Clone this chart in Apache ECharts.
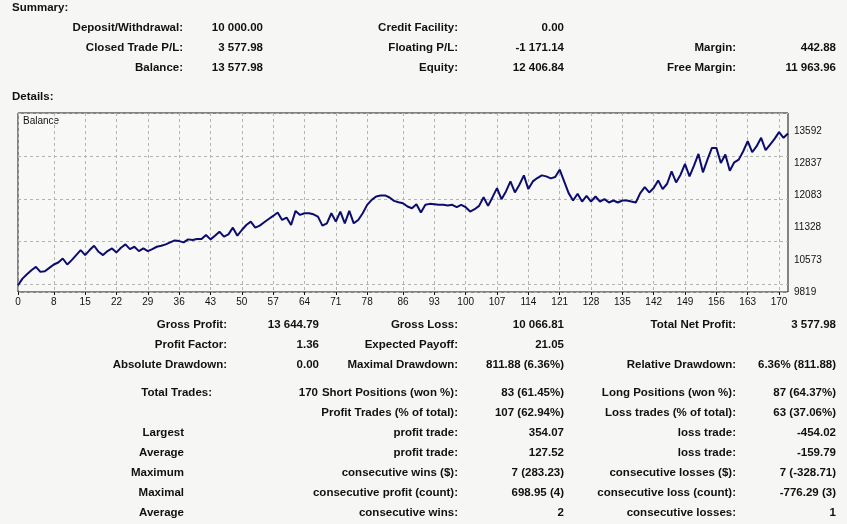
<!DOCTYPE html>
<html>
<head>
<meta charset="utf-8">
<script src="https://cdn.jsdelivr.net/npm/echarts@6/dist/echarts.min.js"></script>
<style>
html, body { margin: 0; padding: 0; background: #f6f6f4; }
#container { width: 847px; height: 524px; }
</style>
</head>
<body>
<div id="container"></div>
<script>
// balance after each trade
var balance = [
  9976, 10133, 10236, 10330, 10409, 10291, 10306, 10385, 10464, 10511,
  10605, 10464, 10566, 10684, 10802, 10684, 10802, 10904, 10762, 10684,
  10778, 10841, 10747, 10857, 10935, 10825, 10880, 10778, 10841, 10778,
  10825, 10880, 10904, 10935, 10982, 11029, 11013, 10982, 11053, 11037,
  11061, 11061, 11155, 11053, 11139, 11234, 11116, 11171, 11328, 11139,
  11273, 11391, 11469, 11328, 11375, 11454, 11532, 11603, 11682, 11509,
  11564, 11391, 11721, 11627, 11666, 11666, 11642, 11587, 11375, 11430,
  11666, 11469, 11705, 11430, 11721, 11430, 11509, 11666, 11862, 11980,
  12059, 12083, 12083, 12035, 11957, 11925, 11902, 11823, 11784, 11878,
  11682, 11863, 11886, 11878, 11863, 11863, 11847, 11863, 11808, 11863,
  11808, 11705, 11760, 11839, 12043, 11839, 12043, 12256, 11996, 12177,
  12413, 12153, 12334, 12554, 12232, 12413, 12491, 12554, 12531, 12484,
  12515, 12688, 12413, 12138, 11965, 12122, 11941, 12075, 11941, 12059,
  11941, 11996, 11918, 11965, 11918, 11965, 11965, 11941, 11918, 12138,
  12279, 12153, 12256, 12436, 12232, 12358, 12649, 12389, 12570, 12821,
  12531, 12782, 13057, 12625, 12924, 13199, 13199, 12845, 13042, 12664,
  12861, 12924, 13120, 13356, 13097, 13238, 13435, 13144, 13277, 13411,
  13568, 13435, 13537
];
var xTicks = [0, 8, 15, 22, 29, 36, 43, 50, 57, 64, 71, 78, 86, 93, 100, 107, 114, 121, 128, 135, 142, 149, 156, 163, 170];
var yTicks = [9819, 10573, 11328, 12083, 12837, 13592];

// report texts: [text, x, y, align]
var headings = [['Summary:', 12, 8], ['Details:', 12, 97]];
var reportTexts = [
  ['Deposit/Withdrawal:', 183, 28, 'right'], ['10 000.00', 263, 28, 'right'],
  ['Credit Facility:', 458, 28, 'right'], ['0.00', 564, 28, 'right'],
  ['Closed Trade P/L:', 183, 48, 'right'], ['3 577.98', 263, 48, 'right'],
  ['Floating P/L:', 458, 48, 'right'], ['-1 171.14', 564, 48, 'right'],
  ['Margin:', 736, 48, 'right'], ['442.88', 836, 48, 'right'],
  ['Balance:', 183, 68, 'right'], ['13 577.98', 263, 68, 'right'],
  ['Equity:', 458, 68, 'right'], ['12 406.84', 564, 68, 'right'],
  ['Free Margin:', 736, 68, 'right'], ['11 963.96', 836, 68, 'right'],

  ['Gross Profit:', 227, 325, 'right'], ['13 644.79', 319, 325, 'right'],
  ['Gross Loss:', 458, 325, 'right'], ['10 066.81', 564, 325, 'right'],
  ['Total Net Profit:', 736, 325, 'right'], ['3 577.98', 836, 325, 'right'],
  ['Profit Factor:', 227, 345, 'right'], ['1.36', 319, 345, 'right'],
  ['Expected Payoff:', 458, 345, 'right'], ['21.05', 564, 345, 'right'],
  ['Absolute Drawdown:', 227, 365, 'right'], ['0.00', 319, 365, 'right'],
  ['Maximal Drawdown:', 458, 365, 'right'], ['811.88 (6.36%)', 564, 365, 'right'],
  ['Relative Drawdown:', 736, 365, 'right'], ['6.36% (811.88)', 836, 365, 'right'],
  ['Total Trades:', 212, 393, 'right'], ['170', 318, 393, 'right'],
  ['Short Positions (won %):', 458, 393, 'right'], ['83 (61.45%)', 564, 393, 'right'],
  ['Long Positions (won %):', 736, 393, 'right'], ['87 (64.37%)', 836, 393, 'right'],
  ['Profit Trades (% of total):', 458, 413, 'right'], ['107 (62.94%)', 564, 413, 'right'],
  ['Loss trades (% of total):', 736, 413, 'right'], ['63 (37.06%)', 836, 413, 'right'],
  ['Largest', 184, 433, 'right'], ['profit trade:', 458, 433, 'right'], ['354.07', 564, 433, 'right'],
  ['loss trade:', 736, 433, 'right'], ['-454.02', 836, 433, 'right'],
  ['Average', 184, 453, 'right'], ['profit trade:', 458, 453, 'right'], ['127.52', 564, 453, 'right'],
  ['loss trade:', 736, 453, 'right'], ['-159.79', 836, 453, 'right'],
  ['Maximum', 184, 473, 'right'], ['consecutive wins ($):', 458, 473, 'right'], ['7 (283.23)', 564, 473, 'right'],
  ['consecutive losses ($):', 736, 473, 'right'], ['7 (-328.71)', 836, 473, 'right'],
  ['Maximal', 184, 493, 'right'], ['consecutive profit (count):', 458, 493, 'right'], ['698.95 (4)', 564, 493, 'right'],
  ['consecutive loss (count):', 736, 493, 'right'], ['-776.29 (3)', 836, 493, 'right'],
  ['Average', 184, 513, 'right'], ['consecutive wins:', 458, 513, 'right'], ['2', 564, 513, 'right'],
  ['consecutive losses:', 736, 513, 'right'], ['1', 836, 513, 'right']
];

var font = 'Liberation Sans, Arial, sans-serif';
var graphics = [];
headings.concat(reportTexts).forEach(function (t) {
  graphics.push({
    type: 'text', x: t[1], y: t[2],
    style: {
      text: t[0], fill: '#111', font: 'bold 11.5px ' + font,
      textAlign: t[3] || 'left', textVerticalAlign: 'middle'
    }
  });
});
graphics.push({
  type: 'text', x: 23, y: 121,
  style: { text: 'Balance', fill: '#111', font: '10px ' + font, textVerticalAlign: 'middle' }
});

var points = balance.map(function (v, i) { return [i, v]; });

var myChart = echarts.init(document.getElementById('container'));
var option = {
  animation: false,
  backgroundColor: '#f6f6f4',
  grid: {
    left: 18, right: 59, top: 113, bottom: 232,
    show: true, backgroundColor: '#f8f8f6', borderColor: '#111', borderWidth: 1
  },
  xAxis: {
    type: 'value', min: 0, max: 172,
    axisLine: { show: false },
    axisTick: { show: true, customValues: xTicks, length: 3, lineStyle: { color: '#111' } },
    axisLabel: { customValues: xTicks, fontSize: 10, color: '#111', fontFamily: font, margin: 5 },
    splitLine: { show: true, lineStyle: { color: '#b4b4b4', type: [3, 3] } }
  },
  yAxis: {
    type: 'value', position: 'right', min: 9819, max: 14017,
    axisLine: { show: false },
    axisTick: { show: false },
    axisLabel: {
      customValues: yTicks, fontSize: 10, color: '#111', fontFamily: font, margin: 6,
      formatter: function (v) { return String(Math.round(v)); }
    },
    splitLine: { show: true, lineStyle: { color: '#b4b4b4', type: [3, 3] } }
  },
  series: [{
    type: 'line', data: points, showSymbol: false,
    lineStyle: { color: '#0c0c6e', width: 2 }
  }],
  graphic: graphics
};
myChart.setOption(option);
</script>
</body>
</html>
